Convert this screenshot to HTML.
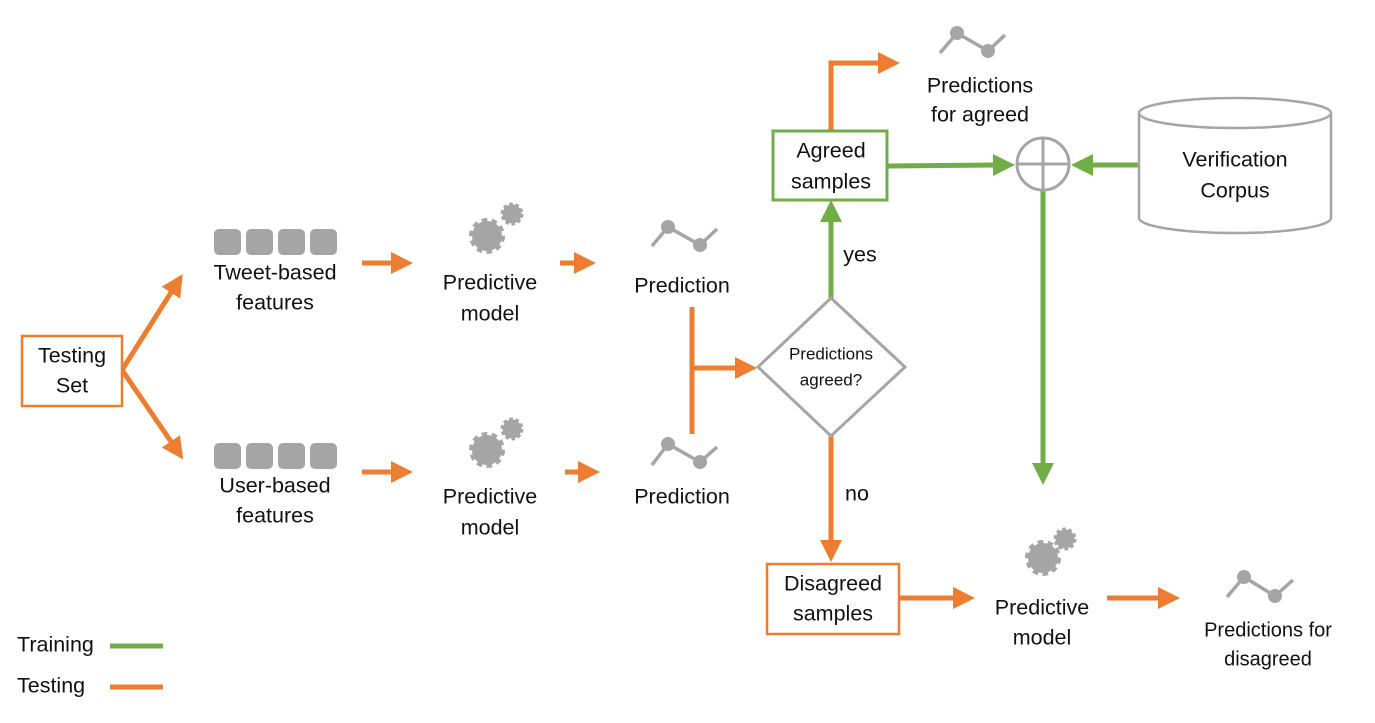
<!DOCTYPE html>
<html><head><meta charset="utf-8"><style>
html,body{margin:0;padding:0;background:#fff;}
svg{display:block;}
text{font-family:"Liberation Sans",sans-serif;font-size:21.5px;fill:#111;text-anchor:middle;dominant-baseline:middle;}
</style></head><body>
<svg width="1375" height="723" viewBox="0 0 1375 723" xmlns="http://www.w3.org/2000/svg">
<defs>
<marker id="ao" markerUnits="userSpaceOnUse" markerWidth="22" markerHeight="22" refX="2" refY="11" orient="auto"><path d="M0,0 L22,11 L0,22 Z" fill="#ED7D31"/></marker>
<marker id="ag" markerUnits="userSpaceOnUse" markerWidth="22" markerHeight="22" refX="2" refY="11" orient="auto"><path d="M0,0 L22,11 L0,22 Z" fill="#70AD47"/></marker>
<g id="gear"><circle r="15" fill="#A5A5A5"/><circle r="16" fill="none" stroke="#A5A5A5" stroke-width="4" stroke-dasharray="5.5 4.5"/></g>
<g id="gs"><circle r="9.5" fill="#A5A5A5"/><circle r="10" fill="none" stroke="#A5A5A5" stroke-width="3" stroke-dasharray="3.5 2.8"/></g>
</defs>

<g fill="none" stroke-width="5">
<g stroke="#ED7D31">
<path d="M122,370 L172,291" marker-end="url(#ao)"/>
<path d="M122,370 L172,443" marker-end="url(#ao)"/>
<path d="M362,263 L393,263" marker-end="url(#ao)"/>
<path d="M362,472 L393,472" marker-end="url(#ao)"/>
<path d="M560,263 L576,263" marker-end="url(#ao)"/>
<path d="M565,472 L580,472" marker-end="url(#ao)"/>
<path d="M692,307 L692,434"/>
<path d="M692,368 L737,368" marker-end="url(#ao)"/>
<path d="M831,130 L831,63 L880,63" marker-end="url(#ao)"/>
<path d="M831,436 L831,542" marker-end="url(#ao)"/>
<path d="M899,598 L955,598" marker-end="url(#ao)"/>
<path d="M1107,598 L1160,598" marker-end="url(#ao)"/>
<path d="M110,687 L163,687"/>
</g>
<g stroke="#70AD47">
<path d="M831,298 L831,220" marker-end="url(#ag)"/>
<path d="M887,166 L995,165" marker-end="url(#ag)"/>
<path d="M1139,165 L1091,165" marker-end="url(#ag)"/>
<path d="M1043,191 L1043,465" marker-end="url(#ag)"/>
<path d="M110,646 L163,646"/>
</g>
</g>

<rect x="22" y="336" width="100" height="70" fill="#fff" stroke="#ED7D31" stroke-width="2.5"/>
<text x="72" y="357">Testing</text><text x="72" y="387">Set</text>

<rect x="773" y="131" width="114" height="69" fill="#fff" stroke="#70AD47" stroke-width="3"/>
<text x="831" y="152">Agreed</text><text x="831" y="183">samples</text>

<rect x="767" y="564" width="132" height="70" fill="#fff" stroke="#ED7D31" stroke-width="2.5"/>
<text x="833" y="585">Disagreed</text><text x="833" y="615">samples</text>

<path d="M831,298 L905,367 L831,436 L758,367 Z" fill="#fff" stroke="#A5A5A5" stroke-width="3"/>
<text x="831" y="355" style="font-size:17px">Predictions</text>
<text x="831" y="381" style="font-size:17px">agreed?</text>
<text x="860" y="256">yes</text>
<text x="857" y="495">no</text>

<circle cx="1043" cy="164" r="26" fill="#fff" stroke="#A5A5A5" stroke-width="3"/>
<path d="M1043,138 V190 M1017,164 H1069" stroke="#A5A5A5" stroke-width="3"/>

<path d="M1139,113 L1139,218 A96,15 0 0 0 1331,218 L1331,113" fill="#fff" stroke="#A5A5A5" stroke-width="2.5"/>
<ellipse cx="1235" cy="113" rx="96" ry="15" fill="#fff" stroke="#A5A5A5" stroke-width="2.5"/>
<text x="1235" y="161">Verification</text><text x="1235" y="192">Corpus</text>

<g fill="#A5A5A5">
<rect x="214" y="229" width="27" height="26" rx="5"/><rect x="246" y="229" width="27" height="26" rx="5"/><rect x="278" y="229" width="27" height="26" rx="5"/><rect x="310" y="229" width="27" height="26" rx="5"/>
<rect x="214" y="443" width="27" height="26" rx="5"/><rect x="246" y="443" width="27" height="26" rx="5"/><rect x="278" y="443" width="27" height="26" rx="5"/><rect x="310" y="443" width="27" height="26" rx="5"/>
</g>
<text x="275" y="274">Tweet-based</text><text x="275" y="304">features</text>
<text x="275" y="487">User-based</text><text x="275" y="517">features</text>

<use href="#gear" x="487" y="236"/><use href="#gs" x="512" y="214"/>
<use href="#gear" x="487" y="450"/><use href="#gs" x="512" y="429"/>
<use href="#gear" x="1043" y="558"/><use href="#gs" x="1065" y="539"/>
<text x="490" y="284">Predictive</text><text x="490" y="315">model</text>
<text x="490" y="498">Predictive</text><text x="490" y="529">model</text>
<text x="1042" y="609">Predictive</text><text x="1042" y="639">model</text>

<g stroke="#A5A5A5" stroke-width="3.5" fill="none">
<path d="M652,246 L668,227 L700,245 L717,229"/>
<path d="M652,465 L668,444 L700,462 L717,447"/>
<path d="M940,53 L957,33 L988,51 L1005,35"/>
<path d="M1227,597 L1244,577 L1275,596 L1293,580"/>
</g>
<g fill="#A5A5A5">
<circle cx="668" cy="227" r="7"/><circle cx="700" cy="245" r="7"/>
<circle cx="668" cy="444" r="7"/><circle cx="700" cy="462" r="7"/>
<circle cx="957" cy="33" r="7"/><circle cx="988" cy="51" r="7"/>
<circle cx="1244" cy="577" r="7"/><circle cx="1275" cy="596" r="7"/>
</g>
<text x="682" y="287">Prediction</text>
<text x="682" y="498">Prediction</text>
<text x="980" y="87">Predictions</text><text x="980" y="116">for agreed</text>
<text x="1268" y="631" style="font-size:20px">Predictions for</text><text x="1268" y="660" style="font-size:20px">disagreed</text>

<text x="17" y="646" style="text-anchor:start">Training</text>
<text x="17" y="687" style="text-anchor:start">Testing</text>
</svg>
</body></html>
